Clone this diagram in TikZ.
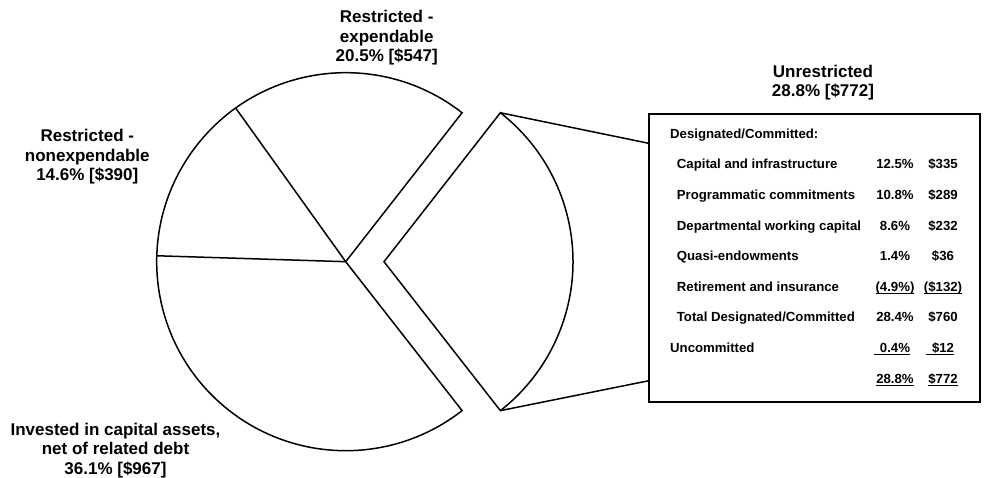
\documentclass[tikz,border=0pt]{standalone}
\usepackage{fontspec}
\setmainfont{Liberation Sans}
\usetikzlibrary{calc}

\newcommand{\sumline}[1]{\setbox0=\hbox{#1}\rlap{\rule[-3pt]{\wd0}{1.2pt}}\box0}

\begin{document}
\begin{tikzpicture}[x=1pt,y=1pt]
\tikzstyle{slice}=[line width=1.5pt, line join=miter]
\tikzstyle{label}=[font=\bfseries\fontsize{17}{19.5}\selectfont, align=center, inner sep=0pt, anchor=north]
\tikzstyle{entry}=[font=\bfseries\fontsize{13.2}{15}\selectfont, inner sep=0pt, anchor=base west]
\tikzstyle{num}=[entry, anchor=base]

\useasboundingbox (0,0) rectangle (985,478);

% pie with the unrestricted slice pulled out
\coordinate (centre) at (345.7,216.3);
\coordinate (apex) at (384,216.3);
\draw[slice] (centre) -- ++(52:189) arc[start angle=52, end angle=308, radius=189] -- cycle;
\draw[slice] (centre) -- ++(125.6:189);
\draw[slice] (centre) -- ++(178.2:189);
\draw[slice] (apex) -- ++(-52:189) coordinate (tiplow)
  arc[start angle=-52, end angle=52, radius=189] coordinate (tiphigh) -- cycle;

\node[label] (expendable) at (386.7,467.7) {Restricted -\\expendable\\20.5\% [\$547]};
\node[label] (nonexpendable) at (87.3,348.7) {Restricted -\\nonexpendable\\14.6\% [\$390]};
\node[label] (invested) at (115.5,55.4) {Invested in capital assets,\\net of related debt\\36.1\% [\$967]};
\node[label] (unrestricted) at (823,413.4) {Unrestricted\\28.8\% [\$772]};

% breakdown box
\node[draw, line width=1.8pt, outer sep=0pt, minimum width=331pt, minimum height=288pt, anchor=north west] (summary) at (649,364) {};
\draw[slice] (tiphigh) -- ($(summary.north west)!0.102!(summary.south west)$);
\draw[slice] (tiplow) -- ($(summary.north west)!0.926!(summary.south west)$);

\node[entry] (head) at (670,339.7) {Designated/Committed:};
\node[entry] (capital) at (676.7,309.1) {Capital and infrastructure};
\node[num] (capitalpct) at (895,309.1) {12.5\%};
\node[num] (capitalamt) at (943,309.1) {\$335};
\node[entry] (program) at (676.7,278.5) {Programmatic commitments};
\node[num] (programpct) at (895,278.5) {10.8\%};
\node[num] (programamt) at (943,278.5) {\$289};
\node[entry] (dept) at (676.7,247.9) {Departmental working capital};
\node[num] (deptpct) at (895,247.9) {8.6\%};
\node[num] (deptamt) at (943,247.9) {\$232};
\node[entry] (quasi) at (676.7,217.3) {Quasi-endowments};
\node[num] (quasipct) at (895,217.3) {1.4\%};
\node[num] (quasiamt) at (943,217.3) {\$36};
\node[entry] (retire) at (676.7,186.7) {Retirement and insurance};
\node[num] (retirepct) at (895,186.7) {\sumline{(4.9\%)}};
\node[num] (retireamt) at (943,186.7) {\sumline{(\$132)}};
\node[entry] (total) at (676.7,156.1) {Total Designated/Committed};
\node[num] (totalpct) at (895,156.1) {28.4\%};
\node[num] (totalamt) at (943,156.1) {\$760};
\node[entry] (uncommitted) at (670,125.5) {Uncommitted};
\node[num] (uncommittedpct) at (892,125.5) {\sumline{\hspace{6pt}0.4\%}};
\node[num] (uncommittedamt) at (940,125.5) {\sumline{\hspace{6pt}\$12}};
\node[num] (grandpct) at (895,94.9) {\sumline{28.8\%}};
\node[num] (grandamt) at (943,94.9) {\sumline{\$772}};
\end{tikzpicture}
\end{document}
